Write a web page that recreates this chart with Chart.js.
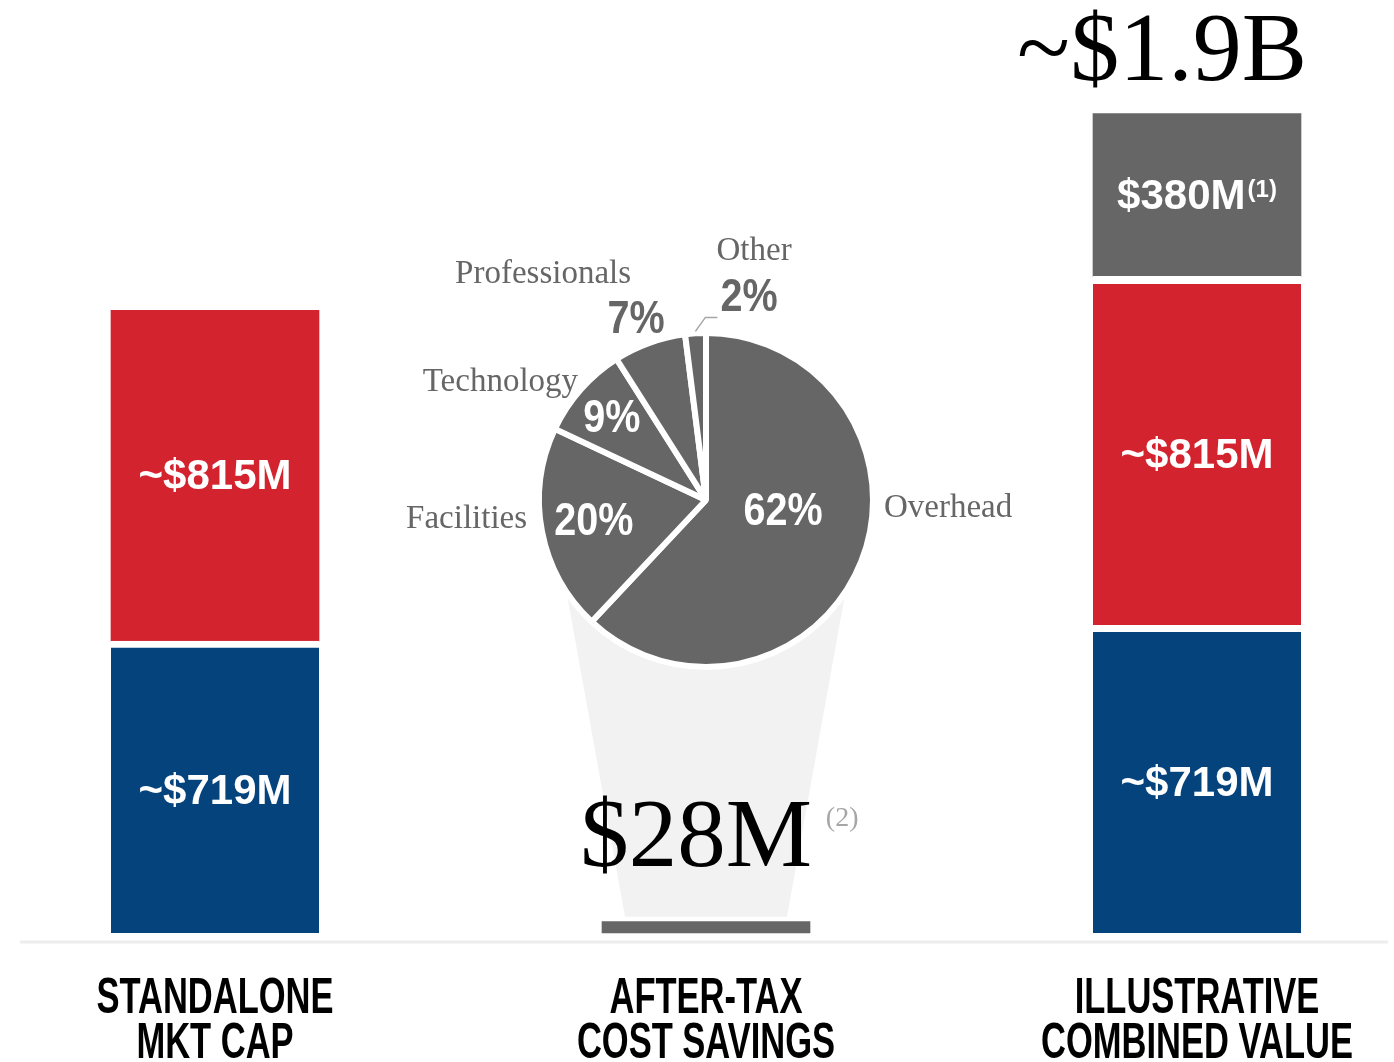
<!DOCTYPE html>
<html>
<head>
<meta charset="utf-8">
<script src="https://cdn.jsdelivr.net/npm/chart.js@4.4.1/dist/chart.umd.min.js"></script>
<style>
  html, body { margin: 0; padding: 0; background: #fff; }
  #wrap { position: relative; width: 1394px; height: 1062px; overflow: hidden; }
  #bars { position: absolute; left: 0; top: 0; }
  #pie { position: absolute; left: 356px; top: 200px; }
</style>
</head>
<body>
<div id="wrap">
  <canvas id="bars" width="1394" height="1062"></canvas>
  <canvas id="pie" width="700" height="600"></canvas>
</div>
<script>
// Dados (US$ milhões)
const categories = [['STANDALONE', 'MKT CAP'], ['AFTER-TAX', 'COST SAVINGS'], ['ILLUSTRATIVE', 'COMBINED VALUE']];
const standaloneBlue = [719, null, null];
const standaloneRed = [815, null, null];
const savings = [null, 28, null];
const combinedBlue = [null, null, 719];
const combinedRed = [null, null, 815];
const combinedGray = [null, null, 380];

// Composição da economia (pizza)
const pieLabels = ['Overhead', 'Facilities', 'Technology', 'Professionals', 'Other'];
const pieValues = [62, 20, 9, 7, 2];

const BLUE = '#05437d';
const RED = '#d2232e';
const GRAY = '#666666';

const PIE_CY = 500; // centro vertical da pizza na página
const PIE_R = 164;

function sumAt(arrs, i) {
    return arrs.reduce((s, a) => s + (a[i] || 0), 0);
}

// Texto comprimido na horizontal (fonte condensada)
function narrowText(ctx, txt, x, y, sx) {
    ctx.save();
    ctx.translate(x, y);
    ctx.scale(sx, 1);
    ctx.fillText(txt, 0, 0);
    ctx.restore();
}

// Desenhos extras do gráfico de barras
const barDecor = {
    id: 'barDecor',
    beforeDatasetsDraw(chart) {
        const ctx = chart.ctx;
        const area = chart.chartArea;
        const mid = chart.getDatasetMeta(2).data[1];

        // funil cinza claro sob a pizza
        const botY = mid.y - 5;
        const slope = 0.18;
        const topHalf = 156;
        const botHalf = topHalf - slope * (botY - PIE_CY);
        ctx.save();
        ctx.fillStyle = '#f2f2f2';
        ctx.beginPath();
        ctx.moveTo(mid.x - topHalf, PIE_CY);
        ctx.lineTo(mid.x + topHalf, PIE_CY);
        ctx.lineTo(mid.x + botHalf, botY);
        ctx.lineTo(mid.x - botHalf, botY);
        ctx.closePath();
        ctx.fill();

        // linha de base
        ctx.strokeStyle = '#ededed';
        ctx.lineWidth = 3;
        ctx.beginPath();
        ctx.moveTo(20, area.bottom + 9);
        ctx.lineTo(1388, area.bottom + 9);
        ctx.stroke();
        ctx.restore();
    },
    afterDatasetsDraw(chart) {
        const ctx = chart.ctx;
        const area = chart.chartArea;
        const xScale = chart.scales.x;
        ctx.save();

        // rótulos das categorias
        ctx.fillStyle = '#000';
        ctx.font = 'bold 50px "Liberation Sans"';
        ctx.textAlign = 'center';
        ctx.textBaseline = 'alphabetic';
        categories.forEach((lines, i) => {
            const x = xScale.getPixelForValue(i);
            lines.forEach((line, j) => {
                narrowText(ctx, line, x, area.bottom + 80 + j * 45, 0.69);
            });
        });

        // valores dentro das barras
        chart.data.datasets.forEach((ds, d) => {
            if (!ds.inner) return;
            const meta = chart.getDatasetMeta(d);
            meta.data.forEach((el, i) => {
                const v = ds.data[i];
                if (v == null) return;
                const top = el.y + (ds.borderWidth.top || 0);
                const cy = (top + el.base) / 2;
                const txt = ds.prefix + v + 'M';
                ctx.fillStyle = '#fff';
                ctx.font = 'bold 42px "Liberation Sans"';
                ctx.textBaseline = 'middle';
                const w = ctx.measureText(txt).width;
                let nw = 0;
                if (ds.note) {
                    ctx.font = 'bold 24px "Liberation Sans"';
                    nw = ctx.measureText(ds.note).width + 2;
                }
                const left = el.x - (w + nw) / 2;
                ctx.font = 'bold 42px "Liberation Sans"';
                ctx.textAlign = 'left';
                ctx.fillText(txt, left, cy + 2);
                if (ds.note) {
                    ctx.font = 'bold 24px "Liberation Sans"';
                    ctx.textBaseline = 'top';
                    ctx.fillText(ds.note, left + w + 2, cy - 17);
                }
            });
        });

        // total combinado acima da barra
        const topEl = chart.getDatasetMeta(5).data[2];
        const total = sumAt([combinedBlue, combinedRed, combinedGray], 2);
        ctx.fillStyle = '#000';
        ctx.font = '98px "Liberation Serif"';
        ctx.textAlign = 'right';
        ctx.textBaseline = 'alphabetic';
        ctx.fillText('~$' + (total / 1000).toFixed(1) + 'B', topEl.x + topEl.width / 2 + 6, topEl.y - 34);

        // economia anual
        const mid = chart.getDatasetMeta(2).data[1];
        ctx.font = '97px "Liberation Serif"';
        ctx.textAlign = 'center';
        const sTxt = '$' + savings[1] + 'M';
        const sx = mid.x - 10;
        ctx.fillText(sTxt, sx, mid.y - 56);
        const sw = ctx.measureText(sTxt).width;
        ctx.fillStyle = '#a6a6a6';
        ctx.font = '28px "Liberation Serif"';
        ctx.textAlign = 'left';
        ctx.fillText('(2)', sx + sw / 2 + 14, mid.y - 96);
        ctx.restore();
    }
};

const noBorder = { top: 0, right: 0, bottom: 0, left: 0 };
const gap7 = { top: 7, right: 0, bottom: 0, left: 0 };
const gap8 = { top: 8, right: 0, bottom: 0, left: 0 };

const barChart = new Chart(document.getElementById('bars').getContext('2d'), {
    type: 'bar',
    data: {
        labels: categories,
        datasets: [
            { label: 'Standalone A', data: standaloneBlue, yAxisID: 'yL', backgroundColor: BLUE, borderWidth: gap7, inner: true, prefix: '~$' },
            { label: 'Standalone B', data: standaloneRed, yAxisID: 'yL', backgroundColor: RED, borderWidth: noBorder, inner: true, prefix: '~$' },
            { label: 'Savings', data: savings, yAxisID: 'yL', backgroundColor: GRAY, borderWidth: noBorder },
            { label: 'Combined A', data: combinedBlue, yAxisID: 'yR', backgroundColor: BLUE, borderWidth: gap7, inner: true, prefix: '~$' },
            { label: 'Combined B', data: combinedRed, yAxisID: 'yR', backgroundColor: RED, borderWidth: gap8, inner: true, prefix: '~$' },
            { label: 'Synergies', data: combinedGray, yAxisID: 'yR', backgroundColor: GRAY, borderWidth: noBorder, inner: true, prefix: '$', note: '(1)' }
        ]
    },
    options: {
        responsive: false,
        animation: false,
        layout: { padding: { left: 215, right: 197, top: 100, bottom: 129 } },
        plugins: { legend: { display: false }, tooltip: { enabled: false } },
        datasets: {
            bar: { barThickness: 208, clip: false, borderColor: '#fff', borderSkipped: false }
        },
        scales: {
            x: { display: false, offset: false, stacked: true },
            yL: { display: false, stacked: true, min: 0, max: 2052 },
            yR: { display: false, stacked: true, min: 0, max: 1946 }
        }
    },
    plugins: [barDecor]
});

// Rótulos da pizza
const pieDecor = {
    id: 'pieDecor',
    afterDatasetsDraw(chart, args, opts) {
        const ctx = chart.ctx;
        const arcs = chart.getDatasetMeta(0).data;
        ctx.save();
        arcs.forEach((arc, i) => {
            const p = arc.getProps(['x', 'y', 'startAngle', 'endAngle']);
            const r = PIE_R;
            const a = opts.pct[i];
            const ang = (p.startAngle + p.endAngle) / 2 + a.da * Math.PI / 180;
            const px = p.x + Math.cos(ang) * r * a.r;
            const py = p.y + Math.sin(ang) * r * a.r;
            ctx.fillStyle = a.r > 1 ? GRAY : '#fff';
            ctx.font = 'bold 46px "Liberation Sans"';
            ctx.textAlign = 'center';
            ctx.textBaseline = 'middle';
            narrowText(ctx, pieValues[i] + '%', px, py + 2, 0.86);

            const n = opts.names[i];
            ctx.fillStyle = GRAY;
            ctx.font = '33px "Liberation Serif"';
            ctx.textAlign = n.align;
            ctx.fillText(pieLabels[i], p.x + n.dx * r, p.y + n.dy * r);

            if (n.leader) {
                const mAng = (p.startAngle + p.endAngle) / 2;
                const sx = p.x + Math.cos(mAng) * r * 1.03;
                const sy = p.y + Math.sin(mAng) * r * 1.03;
                ctx.strokeStyle = '#a6a6a6';
                ctx.lineWidth = 1.5;
                ctx.beginPath();
                ctx.moveTo(sx, sy);
                ctx.lineTo(sx + 10, sy - 14);
                ctx.lineTo(sx + 22, sy - 14);
                ctx.stroke();
            }
        });
        ctx.restore();
    }
};

const pieChart = new Chart(document.getElementById('pie').getContext('2d'), {
    type: 'pie',
    data: {
        labels: pieLabels,
        datasets: [{
            data: pieValues,
            backgroundColor: GRAY,
            borderColor: '#fff',
            borderWidth: 6
        }]
    },
    options: {
        responsive: false,
        animation: false,
        radius: PIE_R + 3,
        plugins: {
            legend: { display: false },
            tooltip: { enabled: false },
            pieDecor: {
                pct: [
                    { r: 0.474, da: -13.8 },
                    { r: 0.694, da: 0.7 },
                    { r: 0.765, da: 0 },
                    { r: 1.189, da: -1.2 },
                    { r: 1.271, da: 15.5 }
                ],
                names: [
                    { dx: 1.085, dy: 0.049, align: 'left' },
                    { dx: -1.091, dy: 0.116, align: 'right' },
                    { dx: -0.78, dy: -0.72, align: 'right' },
                    { dx: -0.457, dy: -1.378, align: 'right' },
                    { dx: 0.293, dy: -1.518, align: 'center', leader: true }
                ]
            }
        }
    },
    plugins: [pieDecor]
});
</script>
</body>
</html>
